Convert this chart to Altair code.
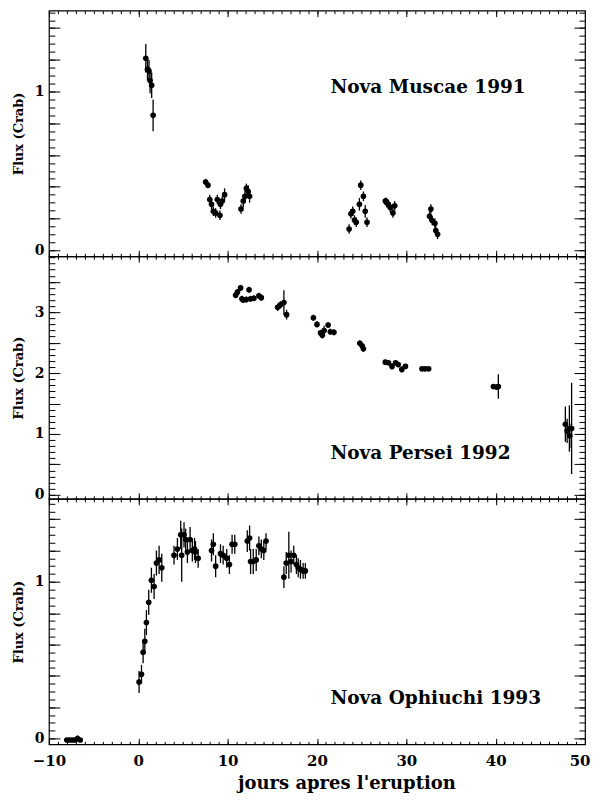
import altair as alt
import pandas as pd

# ---------------- data ----------------
# Nova Muscae 1991
t_mus = [0.84, 1.03, 1.2, 1.32, 1.5, 1.66,
         7.54, 7.8, 8.0, 8.2, 8.4, 8.66, 8.85, 9.14, 9.2, 9.4, 9.66,
         11.5, 11.75, 11.94, 12.1, 12.3, 12.46,
         23.6, 23.8, 24.0, 24.2, 24.4, 24.75, 24.9, 25.2, 25.4, 25.6,
         27.65, 27.8, 28.0, 28.2, 28.5, 28.7,
         32.6, 32.75, 32.9, 33.2, 33.3, 33.5]
f_mus = [1.21, 1.14, 1.13, 1.07, 1.04, 0.85,
         0.43, 0.41, 0.32, 0.29, 0.245, 0.235, 0.32, 0.22, 0.29, 0.31, 0.35,
         0.26, 0.31, 0.34, 0.39, 0.37, 0.34,
         0.134, 0.23, 0.245, 0.19, 0.176, 0.29, 0.41, 0.34, 0.245, 0.176,
         0.31, 0.30, 0.29, 0.27, 0.235, 0.28,
         0.214, 0.26, 0.187, 0.17, 0.124, 0.10]
e_mus = [0.09, 0.07, 0.07, 0.08, 0.08, 0.1,
         0.02, 0.02, 0.03, 0.03, 0.03, 0.03, 0.03, 0.03, 0.03, 0.03, 0.04,
         0.03, 0.04, 0.04, 0.03, 0.04, 0.04,
         0.03, 0.03, 0.03, 0.03, 0.03, 0.04, 0.03, 0.03, 0.04, 0.03,
         0.02, 0.03, 0.03, 0.03, 0.03, 0.03,
         0.03, 0.03, 0.03, 0.03, 0.03, 0.03]

# Nova Persei 1992
t_per = [10.9, 11.1, 11.45, 11.6, 11.75, 12.1, 12.4, 12.57, 12.94, 13.5, 13.77,
         15.6, 15.9, 16.3, 16.6,
         19.6, 20.0, 20.4, 20.6, 20.8, 21.25, 21.5, 21.9,
         24.8, 25.05, 25.2,
         27.65, 28.0, 28.4, 28.8, 29.1, 29.5, 29.9, 31.75, 32.1, 32.5,
         39.75, 40.1, 40.3,
         47.8, 48.0, 48.25, 48.3, 48.5]
f_per = [3.28, 3.33, 3.40, 3.22, 3.20, 3.21, 3.37, 3.22, 3.23, 3.27, 3.24,
         3.08, 3.12, 3.16, 2.96,
         2.91, 2.80, 2.66, 2.62, 2.70, 2.79, 2.68, 2.67,
         2.49, 2.45, 2.40,
         2.18, 2.17, 2.11, 2.17, 2.14, 2.06, 2.11, 2.07, 2.07, 2.07,
         1.78, 1.77, 1.78,
         1.16, 1.05, 1.09, 0.97, 1.09]
e_per = [0.05, 0.05, 0.05, 0.05, 0.05, 0.05, 0.05, 0.05, 0.05, 0.05, 0.05,
         0.06, 0.06, 0.2, 0.08,
         0.05, 0.05, 0.05, 0.05, 0.08, 0.05, 0.05, 0.05,
         0.05, 0.05, 0.05,
         0.04, 0.04, 0.05, 0.04, 0.04, 0.05, 0.04, 0.03, 0.03, 0.03,
         0.04, 0.04, 0.2,
         0.29, 0.2, 0.38, 0.2, 0.75]

# Nova Ophiuchi 1993
t_oph = [-8.0, -7.7, -7.4, -7.1, -6.8, -6.5,
         0.09, 0.36, 0.54, 0.73, 0.91, 1.17, 1.47, 1.77, 2.03, 2.33, 2.63,
         4.0, 4.38, 4.75, 4.86, 5.12, 5.3, 5.5, 5.8, 6.05, 6.3, 6.4, 6.7,
         8.2, 8.4, 8.66, 9.2, 9.5, 9.9, 10.2, 10.5, 10.8,
         12.2, 12.46, 12.57, 12.87, 13.2, 13.5, 13.77, 14.05, 14.3,
         16.3, 16.56, 16.85, 17.1, 17.4, 17.7, 17.9, 18.15, 18.45, 18.7]
f_oph = [-0.01, -0.01, -0.01, -0.01, 0.0, -0.01,
         0.36, 0.41, 0.55, 0.62, 0.74, 0.87, 1.01, 0.97, 1.12, 1.14, 1.09,
         1.17, 1.21, 1.30, 1.17, 1.30, 1.27, 1.19, 1.27, 1.20, 1.21, 1.19, 1.15,
         1.20, 1.24, 1.10, 1.18, 1.17, 1.15, 1.11, 1.24, 1.24,
         1.26, 1.28, 1.13, 1.13, 1.14, 1.23, 1.21, 1.20, 1.26,
         1.03, 1.12, 1.17, 1.13, 1.17, 1.11, 1.09, 1.08, 1.07, 1.07]
e_oph = [0.01, 0.01, 0.01, 0.01, 0.02, 0.01,
         0.07, 0.06, 0.07, 0.08, 0.08, 0.08, 0.08, 0.08, 0.08, 0.09, 0.09,
         0.06, 0.07, 0.09, 0.17, 0.08, 0.07, 0.07, 0.08, 0.07, 0.07, 0.07, 0.06,
         0.07, 0.07, 0.07, 0.06, 0.06, 0.06, 0.06, 0.06, 0.06,
         0.07, 0.08, 0.08, 0.08, 0.07, 0.06, 0.06, 0.06, 0.05,
         0.07, 0.07, 0.15, 0.07, 0.06, 0.06, 0.06, 0.06, 0.05, 0.05]

x_major = [-10, 0, 10, 20, 30, 40, 50]
x_minor = list(range(-10, 51))

FONT = "DejaVu Serif"
W = 537


def tick_axis(orient, values, size):
    return alt.Axis(orient=orient, values=values, tickSize={"expr": str(-size)},
                    labels=False, domain=False, grid=False, title=None,
                    tickColor="black", tickWidth=1, minExtent=0)


def panel(t, f, e, ydom, ymin, ymaj, ylab, name, text_pos, height, bottom):
    df = pd.DataFrame({"t": t, "f": f,
                       "lo": [a - b for a, b in zip(f, e)],
                       "hi": [a + b for a, b in zip(f, e)]})
    xs = alt.Scale(domain=[-10, 50], nice=False, zero=False)
    ys = alt.Scale(domain=ydom, nice=False, zero=False)
    base = alt.Chart(df)

    err = base.mark_rule(color="black", strokeWidth=1.3).encode(
        x=alt.X("t:Q", scale=xs, axis=tick_axis("bottom", x_minor, 3)),
        y=alt.Y("lo:Q", scale=ys, axis=tick_axis("left", ymin, 6)),
        y2="hi:Q")
    pts = base.mark_circle(color="black", size=32, opacity=1).encode(
        x=alt.X("t:Q", scale=xs, axis=tick_axis("bottom", x_major, 6)),
        y=alt.Y("f:Q", scale=ys, axis=tick_axis("left", ymaj, 11)))
    g1 = base.mark_circle(opacity=0).encode(
        x=alt.X("t:Q", scale=xs, axis=tick_axis("top", x_minor, 3)),
        y=alt.Y("f:Q", scale=ys, axis=tick_axis("right", ymin, 6)))
    g2 = base.mark_circle(opacity=0).encode(
        x=alt.X("t:Q", scale=xs, axis=tick_axis("top", x_major, 6)),
        y=alt.Y("f:Q", scale=ys, axis=tick_axis("right", ymaj, 11)))
    layers = [err, pts, g1, g2]
    if bottom:
        xlab = alt.Axis(orient="bottom", values=x_major[:-1], ticks=False,
                        domain=False, grid=False, labelPadding=9,
                        labelFontSize=15, labelFlush=False, minExtent=0,
                        labelFontWeight="bold", title="jours apres l'eruption",
                        titleFontSize=18, titleFontWeight="bold", titleX=298,
                        titleY=44, titleBaseline="alphabetic")
        xlab_end = alt.Axis(orient="bottom", values=x_major[-1:], ticks=False,
                            domain=False, grid=False, labelPadding=9,
                            labelFontSize=15, labelFlush=True,
                            labelFlushOffset=5, minExtent=0,
                            labelFontWeight="bold", title=None)
        layers.append(base.mark_circle(opacity=0).encode(
            x=alt.X("t:Q", scale=xs, axis=xlab_end),
            y=alt.Y("f:Q", scale=ys, axis=None)))
    else:
        xlab = None
    ylab_ax = alt.Axis(orient="left", values=ylab, ticks=False, domain=False,
                       grid=False, labelPadding=5, labelFontSize=14,
                       labelFlush=False, minExtent=0,
                       labelFontWeight="bold", title="Flux (Crab)",
                       titleFontSize=13, titleFontWeight="bold", titlePadding=9)
    g3 = base.mark_circle(opacity=0).encode(
        x=alt.X("t:Q", scale=xs, axis=xlab),
        y=alt.Y("f:Q", scale=ys, axis=ylab_ax))
    txt = alt.Chart(pd.DataFrame({"label": [name]})).mark_text(
        align="left", baseline="middle", font=FONT, fontSize=18.5,
        fontWeight="bold", color="black").encode(
        x=alt.value(text_pos[0]), y=alt.value(text_pos[1]), text="label:N")
    layers += [g3, txt]
    return alt.layer(*layers).resolve_axis(
        x="independent", y="independent").properties(width=W, height=height)


y1_min = [round(i * 0.05, 2) for i in range(0, 31)]
y1_maj = [round(i * 0.2, 1) for i in range(0, 8)]
y2_min = [round(i * 0.1, 1) for i in range(0, 40)]
y2_maj = [round(i * 0.5, 1) for i in range(0, 8)]

p1 = panel(t_mus, f_mus, e_mus, [-0.038, 1.51], y1_min, y1_maj, [0, 1],
           "Nova Muscae 1991", (282, 76), 246, False)
p2 = panel(t_per, f_per, e_per, [-0.066, 3.92], y2_min, y2_maj, [0, 1, 2, 3],
           "Nova Persei 1992", (282, 197), 243, False)
p3 = panel(t_oph, f_oph, e_oph, [-0.038, 1.53], y1_min, y1_maj, [0, 1],
           "Nova Ophiuchi 1993", (282, 200), 246, True)

chart = alt.vconcat(p1, p2, p3, spacing=0, bounds="flush").properties(
    padding={"left": 3, "top": 0, "right": 0, "bottom": 0}
).configure_view(stroke="black", strokeWidth=1.2).configure_axis(
    labelFont=FONT, titleFont=FONT, labelColor="black", titleColor="black",
    minExtent=0)

chart.save("out.html", embed_options={"renderer": "svg", "actions": False})
